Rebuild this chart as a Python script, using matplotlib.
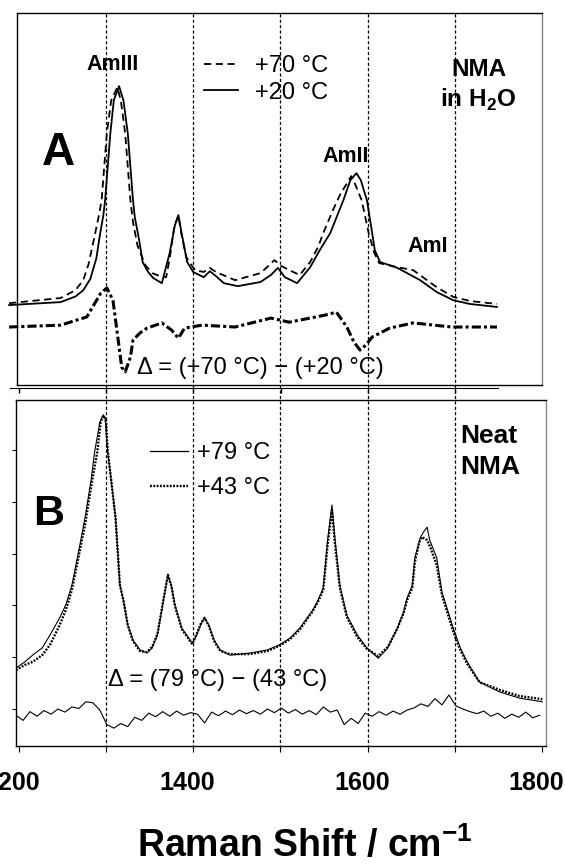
import matplotlib.pyplot as plt
from matplotlib.lines import Line2D
from matplotlib.transforms import ScaledTranslation

plt.rcParams['font.family'] = ['Liberation Sans', 'DejaVu Sans']
plt.rcParams['mathtext.fontset'] = 'custom'
plt.rcParams['mathtext.rm'] = 'Liberation Sans'
plt.rcParams['mathtext.bf'] = 'Liberation Sans:bold'

# panel A: NMA in H2O, +20 C (solid) / +70 C (dashed) and their difference
a20_x = [1189, 1248, 1265, 1274, 1282, 1289, 1293, 1297, 1299, 1305, 1309, 1315, 1320,
         1325, 1331, 1333, 1338, 1342, 1348, 1354, 1364, 1373, 1379, 1383, 1386, 1393,
         1400, 1412, 1419, 1426, 1435, 1451, 1477, 1489, 1497, 1505, 1519, 1534, 1545,
         1557, 1572, 1580, 1587, 1592, 1599, 1605, 1608, 1614, 1634, 1660, 1679, 1698,
         1717, 1748]
a20_y = [21.5, 22.3, 23.8, 25.5, 28.5, 34.1, 40.3, 45.7, 49.7, 67.7, 76.6, 80.4, 76.6,
         67.7, 49.7, 45.2, 39.0, 33.1, 30.5, 28.8, 27.4, 35.5, 43.0, 45.7, 41.7, 33.1,
         30.4, 29.0, 30.6, 29.3, 27.4, 26.6, 27.7, 29.6, 31.5, 29.0, 27.4, 31.7, 36.3,
         40.9, 49.7, 55.1, 57.0, 55.1, 49.7, 40.9, 36.3, 33.1, 31.5, 28.2, 25.0, 22.8,
         21.8, 21.0]

a70_x = [1189, 1248, 1265, 1274, 1280, 1286, 1292, 1295, 1301, 1306, 1313, 1317, 1322,
         1328, 1331, 1336, 1345, 1353, 1362, 1369, 1373, 1378, 1383, 1386, 1392, 1402,
         1412, 1419, 1426, 1448, 1477, 1486, 1493, 1501, 1510, 1522, 1534, 1543, 1549,
         1560, 1568, 1581, 1585, 1593, 1601, 1607, 1613, 1634, 1652, 1679, 1698, 1717,
         1748]
a70_y = [22.0, 23.4, 25.5, 28.2, 32.5, 39.0, 45.7, 49.7, 67.7, 76.6, 80.1, 76.6, 67.7,
         49.7, 43.8, 37.6, 32.3, 30.1, 29.3, 29.0, 34.1, 42.2, 45.7, 41.1, 34.4, 30.9,
         30.4, 31.5, 30.4, 28.2, 30.1, 32.0, 33.6, 32.0, 30.9, 29.6, 33.1, 37.1, 40.9,
         47.0, 51.1, 56.2, 54.3, 49.7, 40.9, 35.8, 32.8, 31.7, 30.9, 26.3, 23.7, 22.6,
         21.8]

adiff_x = [1189, 1248, 1278, 1294, 1301, 1308, 1314, 1318, 1322, 1328, 1331, 1339, 1347,
           1364, 1375, 1383, 1390, 1410, 1448, 1489, 1510, 1551, 1564, 1576, 1584, 1591,
           1598, 1605, 1625, 1652, 1696, 1748]
adiff_y = [15.6, 16.1, 18.3, 24.7, 26.1, 22.8, 12.1, 4.8, 3.5, 7.5, 12.1, 14.0, 15.3,
           16.7, 14.8, 12.6, 15.3, 16.1, 15.6, 18.0, 16.9, 18.8, 19.6, 15.6, 11.6, 9.4,
           10.8, 12.9, 15.3, 16.7, 15.6, 15.6]

# panel B: neat NMA, +79 C (solid) / +43 C (dotted) and their difference
b79_x = [1197, 1207, 1216, 1227, 1236, 1247, 1254, 1261, 1269, 1276, 1283, 1287, 1293,
         1297, 1299, 1302, 1306, 1311, 1316, 1320, 1325, 1331, 1339, 1347, 1353, 1359,
         1363, 1367, 1371, 1375, 1379, 1387, 1399, 1404, 1409, 1413, 1418, 1424, 1431,
         1442, 1465, 1485, 1499, 1511, 1522, 1537, 1543, 1549, 1554, 1559, 1562, 1568,
         1576, 1588, 1599, 1612, 1623, 1634, 1641, 1645, 1651, 1654, 1660, 1664, 1668,
         1671, 1679, 1685, 1698, 1706, 1714, 1728, 1751, 1774, 1800]
b79_y = [0.79, 0.91, 1.04, 1.18, 1.43, 1.76, 2.01, 2.39, 3.07, 3.69, 4.42, 4.96, 5.54,
         5.68, 5.62, 4.96, 4.42, 3.69, 2.39, 2.10, 1.62, 1.33, 1.14, 1.08, 1.18, 1.43,
         1.81, 2.20, 2.59, 2.39, 2.01, 1.56, 1.27, 1.43, 1.64, 1.76, 1.62, 1.33, 1.14,
         1.04, 1.08, 1.14, 1.24, 1.37, 1.56, 1.91, 2.10, 2.34, 3.26, 3.94, 3.36, 2.39,
         1.81, 1.43, 1.18, 0.98, 1.18, 1.56, 1.87, 2.14, 2.39, 2.92, 3.30, 3.42, 3.51,
         3.26, 2.92, 2.26, 1.56, 1.18, 0.91, 0.52, 0.33, 0.21, 0.14]

b43_x = [1197, 1207, 1216, 1227, 1236, 1247, 1254, 1261, 1269, 1276, 1283, 1290, 1294,
         1297, 1300, 1302, 1306, 1311, 1316, 1320, 1325, 1331, 1339, 1347, 1353, 1359,
         1363, 1367, 1371, 1375, 1379, 1387, 1399, 1404, 1409, 1413, 1418, 1424, 1431,
         1442, 1465, 1485, 1499, 1511, 1522, 1537, 1543, 1549, 1554, 1559, 1562, 1568,
         1576, 1588, 1599, 1612, 1623, 1634, 1641, 1645, 1651, 1654, 1659, 1662, 1668,
         1672, 1679, 1685, 1698, 1706, 1714, 1728, 1751, 1774, 1800]
b43_y = [0.75, 0.85, 0.91, 1.04, 1.24, 1.62, 1.91, 2.30, 2.97, 3.55, 4.29, 4.96, 5.54,
         5.66, 5.58, 5.00, 4.42, 3.69, 2.39, 2.10, 1.62, 1.31, 1.12, 1.10, 1.20, 1.45,
         1.83, 2.22, 2.59, 2.37, 1.99, 1.54, 1.25, 1.45, 1.66, 1.76, 1.60, 1.31, 1.12,
         1.06, 1.06, 1.12, 1.22, 1.35, 1.53, 1.89, 2.07, 2.30, 3.17, 3.84, 3.26, 2.34,
         1.78, 1.39, 1.16, 1.02, 1.20, 1.56, 1.85, 2.10, 2.34, 2.84, 3.22, 3.32, 3.26,
         3.11, 2.78, 2.20, 1.49, 1.14, 0.87, 0.52, 0.37, 0.25, 0.19]

bdiff_x = [1197, 1205, 1213, 1221, 1229, 1237, 1245, 1253, 1261, 1269, 1277, 1285, 1293,
           1301, 1309, 1317, 1325, 1333, 1341, 1349, 1357, 1365, 1373, 1381, 1389, 1397,
           1405, 1413, 1421, 1429, 1437, 1445, 1453, 1461, 1469, 1477, 1485, 1493, 1501,
           1509, 1517, 1525, 1533, 1541, 1549, 1557, 1565, 1573, 1581, 1589, 1597, 1605,
           1613, 1621, 1629, 1637, 1645, 1653, 1661, 1669, 1677, 1685, 1693, 1701, 1709,
           1717, 1725, 1733, 1741, 1749, 1757, 1765, 1773, 1781, 1789, 1797]
bdiff_y = [-0.12, -0.22, -0.05, -0.14, -0.03, -0.10, 0.00, -0.06, 0.04, 0.01, 0.14, 0.12,
           -0.02, -0.30, -0.37, -0.28, -0.34, -0.16, -0.22, -0.08, -0.15, -0.05, -0.14,
           -0.04, -0.12, -0.07, -0.10, -0.27, -0.06, -0.13, -0.04, -0.11, -0.02, -0.09,
           -0.03, -0.10, 0.00, -0.07, 0.02, -0.08, -0.01, -0.10, -0.03, -0.11, 0.04,
           -0.06, -0.02, -0.30, -0.18, -0.28, -0.08, -0.14, -0.05, -0.12, -0.04, -0.10,
           -0.02, 0.02, 0.10, 0.05, 0.20, 0.08, 0.27, 0.06, 0.00, -0.05, -0.09, -0.04,
           -0.14, -0.08, -0.18, -0.10, -0.16, -0.06, -0.17, -0.12]

grid_x = [1300, 1400, 1500, 1600, 1700]
b_major = [1200, 1400, 1600, 1800]
b_minor = [1300, 1500, 1700]
a_ticks = [1200, 1300, 1400, 1500, 1600, 1700]

W, H = 565, 865


def box(left, top, right, bottom):
    # pixel box -> figure fraction rect
    return [left / W, 1 - bottom / H, (right - left) / W, (bottom - top) / H]


def pt(x, y):
    return x / W, 1 - y / H


fig = plt.figure(figsize=(W / 100, H / 100), dpi=100)

# ---------- panel A ----------
axA = fig.add_axes(box(17.3, 13.3, 542, 385))
axA.set_xlim(1198.4, 1799.6)
axA.set_ylim(0, 100)
axA.set_xticks([])
axA.set_yticks([])
for s in axA.spines.values():
    s.set_linewidth(1.0)
axA.spines['right'].set_color('#888888')

axA.plot(a70_x, a70_y, color='black', lw=1.3, ls=(0, (4, 2.5)), clip_on=False)
axA.plot(a20_x, a20_y, color='black', lw=1.3, clip_on=False)
axA.plot(adiff_x, adiff_y, color='black', lw=2.2, ls=(0, (3, 1, 1, 1)), clip_on=False)

hA = [Line2D([], [], color='black', lw=1.3, ls=(0, (4, 2.5))),
      Line2D([], [], color='black', lw=1.3)]
axA.legend(hA, ['+70 °C', '+20 °C'], loc='upper left', bbox_to_anchor=pt(204, 55),
           bbox_transform=fig.transFigure, frameon=False, fontsize=17,
           handlelength=1.45, handletextpad=0.7, labelspacing=0.2,
           borderpad=0, borderaxespad=0)

# separate x axis line under panel A
axAx = fig.add_axes([10 / W, 1 - 388 / H, 488 / W, 0.0005])
axAx.set_xlim(1190.0, 1749.2)
axAx.set_xticks(a_ticks)
axAx.set_xticklabels([])
axAx.set_yticks([])
axAx.tick_params(axis='x', direction='out', length=3.5, width=1)
for side in ['top', 'left', 'right']:
    axAx.spines[side].set_visible(False)
axAx.patch.set_visible(False)

# ---------- panel B ----------
axB = fig.add_axes(box(15.7, 400, 545.7, 746))
axB.set_xlim(1196.6, 1803.9)
axB.set_ylim(-0.714, 5.965)
axB.set_xticks(b_major)
axB.set_xticks(b_minor, minor=True)
axB.set_xticklabels([str(v) for v in b_major], fontsize=18, fontweight='bold')
axB.set_yticks([0, 1, 2, 3, 4, 5])
axB.set_yticklabels([])
axB.tick_params(axis='x', which='both', direction='out', length=4, width=0.8, pad=14)
axB.tick_params(axis='y', direction='out', length=3, width=0.8)
for s in axB.spines.values():
    s.set_linewidth(1.0)
axB.spines['right'].set_color('#888888')
shift = ScaledTranslation(-6 / 100, 0, fig.dpi_scale_trans)
for lab in axB.get_xticklabels():
    lab.set_transform(lab.get_transform() + shift)

axB.plot(b43_x, b43_y, color='black', lw=1.7, ls=(0, (0.8, 0.6)))
axB.plot(b79_x, b79_y, color='black', lw=0.8)
axB.plot(bdiff_x, bdiff_y, color='black', lw=0.8)

hB = [Line2D([], [], color='black', lw=0.9),
      Line2D([], [], color='black', lw=1.7, ls=(0, (0.8, 0.6)))]
axB.legend(hB, ['+79 °C', '+43 °C'], loc='upper left', bbox_to_anchor=pt(150, 442),
           bbox_transform=fig.transFigure, frameon=False, fontsize=17,
           handlelength=1.6, handletextpad=0.38, labelspacing=0.55,
           borderpad=0, borderaxespad=0)

# ---------- dashed guide lines across both panels ----------
axV = fig.add_axes(box(15.7, 13, 545.7, 748))
axV.set_xlim(1196.6, 1803.9)
axV.set_ylim(0, 1)
axV.axis('off')
for g in grid_x:
    axV.axvline(g, color='black', lw=0.9, ls=(0, (2.5, 1.8)))

# ---------- labels ----------
bold = dict(fontweight='bold', ha='center', va='center')
fig.text(*pt(113, 65), 'AmIII', fontsize=15.5, **bold)
fig.text(*pt(346, 157), 'AmII', fontsize=15.5, **bold)
fig.text(*pt(428, 247), 'AmI', fontsize=15.5, **bold)
fig.text(*pt(58, 153), 'A', fontsize=33, **bold)
fig.text(*pt(479, 70), 'NMA', fontsize=17.5, **bold)
fig.text(*pt(478, 100), r'in H$_\mathbf{2}$O', fontsize=17.5, **bold)
fig.text(*pt(137, 368), 'Δ = (+70 °C) − (+20 °C)', fontsize=17, ha='left', va='center')

fig.text(*pt(49, 514), 'B', fontsize=31, **bold)
fig.text(*pt(460, 436), 'Neat', fontsize=19, fontweight='bold', ha='left', va='center')
fig.text(*pt(460, 467), 'NMA', fontsize=19, fontweight='bold', ha='left', va='center')
fig.text(*pt(108, 680), 'Δ = (79 °C) − (43 °C)', fontsize=17, ha='left', va='center')

fig.text(*pt(305, 857), r'Raman Shift / cm$^\mathbf{-1}$', fontsize=27,
         fontweight='bold', ha='center', va='baseline')

fig.savefig('out.png', dpi=100)
